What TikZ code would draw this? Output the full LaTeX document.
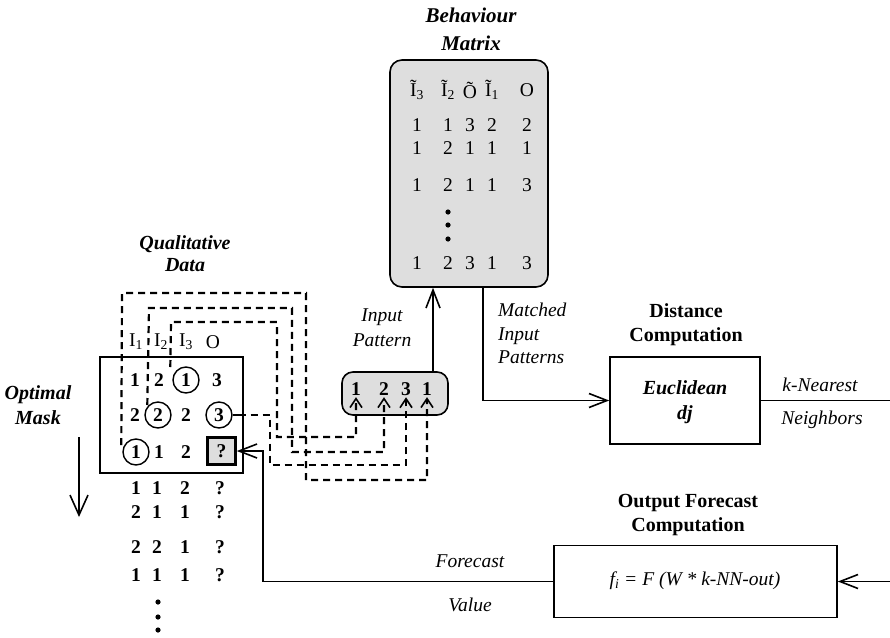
\documentclass[tikz,border=0pt]{standalone}
\usepackage{fontspec}
\setmainfont{Liberation Serif}
\usetikzlibrary{arrows.meta,calc}
\definecolor{boxgray}{RGB}{222,222,222}
\begin{document}
\begin{tikzpicture}[x=1pt,y=-1pt,
  every node/.style={inner sep=0pt,font=\fontsize{19.5}{23}\selectfont},
  bi/.style={align=center,font=\fontsize{20}{22}\selectfont\bfseries\itshape},
  bo/.style={align=center,font=\fontsize{20}{24}\selectfont\bfseries},
  it/.style={align=center,font=\fontsize{19.5}{25}\selectfont\itshape},
  num/.style={font=\fontsize{19.5}{22}\selectfont},
  bnum/.style={font=\fontsize{19.5}{22}\selectfont\bfseries},
  circ/.style={circle,draw,line width=1.4pt,minimum size=26pt,font=\fontsize{19.5}{22}\selectfont\bfseries},
  solid line/.style={line width=1.6pt},
  bigarr/.style={line width=1.6pt,-{Straight Barb[length=18pt,width=14pt,line width=1.6pt]}},
  dashline/.style={line width=2.2pt,dash pattern=on 7pt off 5pt},
  smallarr/.style={-{Straight Barb[length=9pt,width=12pt,line width=1.6pt]}},
  plainbox/.style={draw,line width=1.6pt,fill=white},
  graybox/.style={draw,line width=1.6pt,fill=boxgray,rounded corners=12pt}
]
\useasboundingbox (0,0) rectangle (890,637);

% ---------- Behaviour matrix ----------
\node[bi,font=\fontsize{21}{28}\selectfont\bfseries\itshape] (tb) at (471,29) {Behaviour\\Matrix};
\node[graybox,minimum width=158pt,minimum height=227pt] (bm) at (469,173.5) {};
\node[num] (h1) at (417,90) {\~{I}\textsubscript{3}};
\node[num] (h2) at (448,90) {\~{I}\textsubscript{2}};
\node[num] (h3) at (470,90) {\~{O}};
\node[num] (h4) at (492,90) {\~{I}\textsubscript{1}};
\node[num] (h5) at (527,90) {O};
\foreach \y/\a/\b/\c/\d/\e [count=\r] in {125/1/1/3/2/2,148/1/2/1/1/1,185/1/2/1/1/3,263/1/2/3/1/3}{
  \node[num] (m\r a) at (417,\y) {\a};
  \node[num] (m\r b) at (448,\y) {\b};
  \node[num] (m\r c) at (470,\y) {\c};
  \node[num] (m\r d) at (492,\y) {\d};
  \node[num] (m\r e) at (527,\y) {\e};
}
\foreach \y [count=\k] in {212,225,239}{
  \fill (448,\y) circle (2.6pt);
}

% ---------- Input pattern ----------
\node[it] (tip) at (382,327.5) {Input\\Pattern};
\node[graybox,minimum width=106pt,minimum height=43pt,rounded corners=11pt] (ipb) at (395,393.5) {};
\node[bnum,inner sep=1.5pt] (ip1) at (356,389) {1};
\node[bnum,inner sep=1.5pt] (ip2) at (384,389) {2};
\node[bnum,inner sep=1.5pt] (ip3) at (406,389) {3};
\node[bnum,inner sep=1.5pt] (ip4) at (427,389) {1};
\coordinate (ax) at (433,0);
\draw[bigarr] (ipb.north -| ax) -- (bm.south -| ax);

% ---------- Qualitative data ----------
\node[bi] (tq) at (185,254) {Qualitative\\Data};
\node[plainbox,minimum width=143pt,minimum height=116pt] (qb) at (171.5,415) {};
\node[num] (q1) at (136,342) {I\textsubscript{1}};
\node[num] (q2) at (161,342) {I\textsubscript{2}};
\node[num] (q3) at (186,342) {I\textsubscript{3}};
\node[num] (q4) at (213,342) {O};
\node[bnum] (r11) at (135,380) {1};
\node[bnum] (r12) at (159,380) {2};
\node[circ] (c13) at (186,380) {1};
\node[bnum] (r14) at (217,380) {3};
\node[bnum] (r21) at (135,415) {2};
\node[circ] (c22) at (158,415) {2};
\node[bnum] (r23) at (186,415) {2};
\node[circ] (c23) at (219,415) {3};
\node[circ] (c31) at (136,452) {1};
\node[bnum] (r32) at (159,452) {1};
\node[bnum] (r33) at (186,452) {2};
\node[draw,line width=2.6pt,fill=boxgray,minimum width=28pt,minimum height=27pt,font=\fontsize{19.5}{22}\selectfont\bfseries] (qm) at (221.5,451) {?};
\foreach \y/\a/\b/\c [count=\r] in {488/1/1/2,512/2/1/1,547/2/2/1,575/1/1/1}{
  \node[bnum] (b\r a) at (136,\y) {\a};
  \node[bnum] (b\r b) at (157,\y) {\b};
  \node[bnum] (b\r c) at (185,\y) {\c};
  \node[bnum] (b\r d) at (220,\y) {?};
}
\foreach \y in {602,617,630}{
  \fill (158,\y) circle (2.6pt);
}

% ---------- Optimal mask ----------
\node[bi,font=\fontsize{20}{25}\selectfont\bfseries\itshape] (tom) at (38,405.5) {Optimal\\Mask};
\coordinate (om1) at (79,437);
\coordinate (om2) at (79,517);
\draw[bigarr,-{Straight Barb[length=20pt,width=18pt,line width=1.6pt]}] (om1) -- (om2);

% ---------- Dashed connectors ----------
\draw[dashline,smallarr] ($(c31.west)+(-1,-7)$) -- (122,293) -- (306,293) -- (306,480) -- (ip4.south |- 0,480) -- (ip4.south);
\draw[dashline,smallarr] ($(c22.west)+(3,-10)$) -- (149,308) -- (292,308) -- (292,452) -- (ip2.south |- 0,452) -- (ip2.south);
\draw[dashline,smallarr] ($(c13.west)+(-2,-13)$) -- (171,322) -- (277,322) -- (277,437) -- (ip1.south |- 0,437) -- (ip1.south);
\draw[line width=1.6pt] (c23.east) -- ++(6,0);
\draw[dashline,smallarr] ($(c23.east)+(6,0)$) -- (270,415) -- (270,465) -- (ip3.south |- 0,465) -- (ip3.south);

% ---------- Distance computation ----------
\node[it,align=left,font=\fontsize{19.5}{23.5}\selectfont\itshape,anchor=west] (tmp) at (498,333.5) {Matched\\Input\\Patterns};
\node[bo] (tdc) at (686,325) {Distance\\Computation};
\node[plainbox,minimum width=150pt,minimum height=87pt] (euc) at (685,400.5) {};
\node[bi,font=\fontsize{20}{25}\selectfont\bfseries\itshape] (eut) at (685,402) {Euclidean\\dj};
\coordinate (mx) at (483,0);
\draw[bigarr] (bm.south -| mx) -- (mx |- euc.west) -- (euc.west);
\coordinate (re) at (890,0);
\draw[solid line] (euc.east) -- (euc.east -| re);
\node[it] (tkn) at (820,385) {k-Nearest};
\node[it] (tnb) at (822,420) {Neighbors};

% ---------- Output forecast ----------
\node[bo] (tof) at (688,515) {Output Forecast\\Computation};
\node[plainbox,minimum width=283pt,minimum height=72pt] (fb) at (695.5,581.5) {};
\node[font=\fontsize{19.5}{23}\selectfont\itshape] (fml) at (695,581) {f\textsubscript{i} = F (W * k-NN-out)};
\draw[bigarr] (fb.east -| re) -- (fb.east);
\coordinate (fx) at (263,0);
\draw[bigarr] (fb.west) -- (fb.west -| fx) -- (fx |- qm.east) -- (qm.east);
\node[it] (tfc) at (470,561) {Forecast};
\node[it] (tvl) at (470,605) {Value};
\end{tikzpicture}
\end{document}
